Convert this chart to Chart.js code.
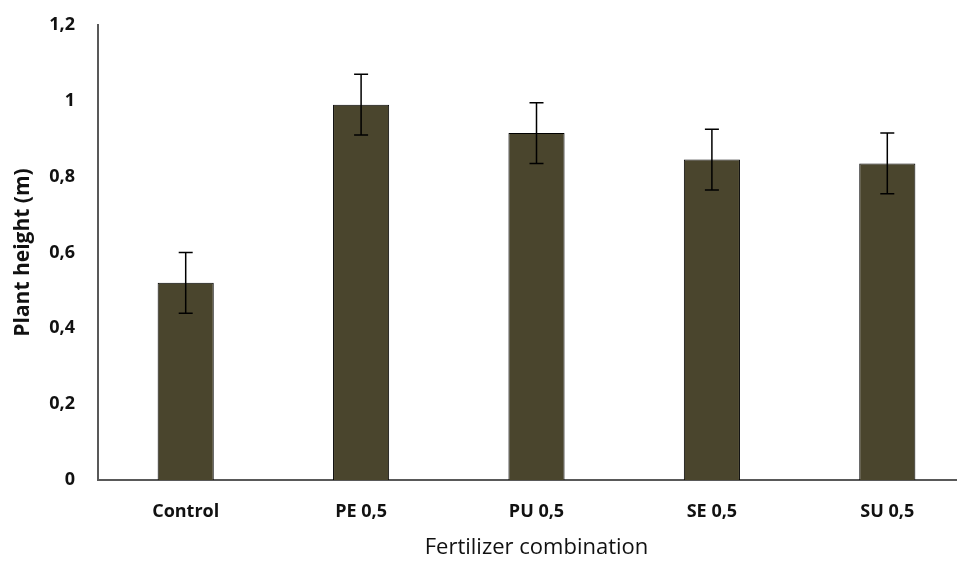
<!DOCTYPE html>
<html>
<head>
<meta charset="utf-8">
<script src="https://cdn.jsdelivr.net/npm/chart.js@4.4.1/dist/chart.umd.min.js"></script>
<style>
  html, body { margin: 0; padding: 0; background: #fff; overflow: hidden; width: 957px; height: 561px; }
  #wrap { position: absolute; left: 0; top: 0; width: 975px; height: 561px; }
</style>
</head>
<body>
<div id="wrap"><canvas id="c" width="975" height="561"></canvas></div>
<script>
const categories = ["Control", "PE 0,5", "PU 0,5", "SE 0,5", "SU 0,5"];
const heights = [0.52, 0.99, 0.915, 0.845, 0.835];
const errors = [0.08, 0.08, 0.08, 0.08, 0.08];
const yTicks = [0, 0.2, 0.4, 0.6, 0.8, 1, 1.2];

const errorBarPlugin = {
  id: 'errorBars',
  afterDatasetsDraw(chart) {
    const ctx = chart.ctx;
    const meta = chart.getDatasetMeta(0);
    const y = chart.scales.y;
    ctx.save();
    ctx.strokeStyle = '#000';
    ctx.lineWidth = 1.5;
    meta.data.forEach((bar, i) => {
      const x = bar.x;
      const top = y.getPixelForValue(heights[i] + errors[i]);
      const bot = y.getPixelForValue(heights[i] - errors[i]);
      const cap = 7;
      ctx.beginPath();
      ctx.moveTo(x, top); ctx.lineTo(x, bot);
      ctx.moveTo(x - cap, top); ctx.lineTo(x + cap, top);
      ctx.moveTo(x - cap, bot); ctx.lineTo(x + cap, bot);
      ctx.stroke();
    });
    ctx.restore();
  }
};

new Chart(document.getElementById('c'), {
  type: 'bar',
  data: {
    labels: categories,
    datasets: [{
      data: heights,
      backgroundColor: '#4a452d',
      borderColor: '#000',
      borderWidth: 1,
      barPercentage: 0.32,
      categoryPercentage: 1
    }]
  },
  options: {
    responsive: false,
    animation: false,
    layout: { padding: { top: 25, right: 0, left: 0, bottom: 0 } },
    plugins: { legend: { display: false }, tooltip: { enabled: false } },
    scales: {
      x: {
        grid: { display: false, drawTicks: false },
        border: { display: true, color: '#595959', width: 2 },
        ticks: { color: '#111', font: { family: 'Open Sans', size: 18, weight: 'bold' }, padding: 21 },
        title: { display: true, text: 'Fertilizer combination', color: '#111', font: { family: 'Open Sans', size: 22 }, padding: { top: 11, bottom: 0 } },
        afterFit(s) { s.height = 81; s.paddingLeft = 0; s.paddingRight = 0; }
      },
      y: {
        min: 0, max: 1.2,
        afterBuildTicks(s) { s.ticks = yTicks.map(v => ({ value: v })); },
        grid: { display: false, drawTicks: false },
        border: { display: true, color: '#595959', width: 2 },
        ticks: {
          color: '#111', font: { family: 'Open Sans', size: 18, weight: 'bold' }, padding: 23,
          callback: v => String(v).replace('.', ',')
        },
        title: { display: true, text: 'Plant height (m)', color: '#111', font: { family: 'Open Sans', size: 21, weight: 'bold' }, padding: { top: 10, bottom: 4 } },
        afterFit(s) { s.width = 98; s.paddingTop = 0; s.paddingBottom = 0; }
      }
    }
  },
  plugins: [errorBarPlugin]
});
</script>
</body>
</html>
